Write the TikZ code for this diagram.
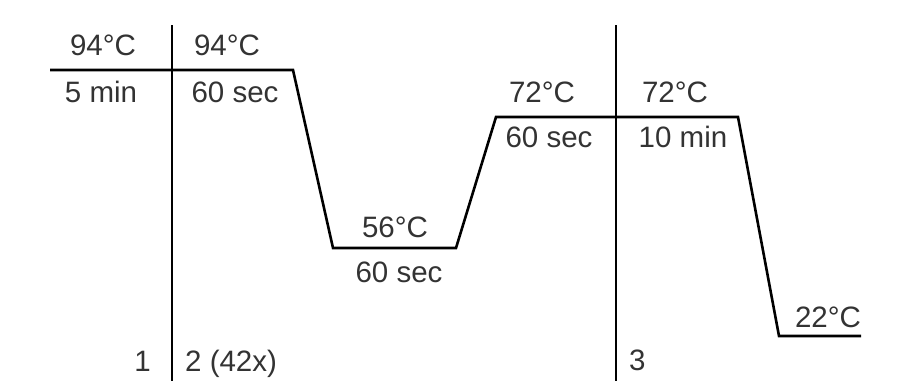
\documentclass[tikz,border=0pt]{standalone}
\usepackage{fontspec}
\setmainfont{Liberation Sans}
\definecolor{txt}{HTML}{333333}
\begin{document}
\begin{tikzpicture}[x=1pt,y=-1pt,
  lbl/.style={inner sep=0pt,text=txt,font=\fontsize{29.5}{32}\selectfont,anchor=base},
  prof/.style={line width=2.6pt,line join=miter,black},
  sep/.style={line width=2.4pt,black}]
\useasboundingbox (0,0) rectangle (898,381);
% profile coordinates
\coordinate (p0) at (50,70);
\coordinate (p1) at (293,70);
\coordinate (p2) at (333,248);
\coordinate (p3) at (456,248);
\coordinate (p4) at (496,117);
\coordinate (p5) at (738,117);
\coordinate (p6) at (779,336);
\coordinate (p7) at (861,336);
\draw[prof] (p0) -- (p1) -- (p2) -- (p3) -- (p4) -- (p5) -- (p6) -- (p7);
% separators
\coordinate (s1t) at (172,25);
\coordinate (s1b) at (172,381);
\coordinate (s2t) at (616,25);
\coordinate (s2b) at (616,381);
\draw[sep] (s1t) -- (s1b);
\draw[sep] (s2t) -- (s2b);
% labels
\node[lbl] (t1) at (103,55) {94°C};
\node[lbl] (d1) at (101,102) {5 min};
\node[lbl] (t2) at (227,55) {94°C};
\node[lbl] (d2) at (235,102) {60 sec};
\node[lbl] (t3) at (395,237) {56°C};
\node[lbl] (d3) at (399,282) {60 sec};
\node[lbl] (t4) at (542,102) {72°C};
\node[lbl] (d4) at (549,147) {60 sec};
\node[lbl] (t5) at (675,102) {72°C};
\node[lbl] (d5) at (683,147) {10 min};
\node[lbl] (t6) at (828,327) {22°C};
\node[lbl,anchor=base east] (n1) at (151,371) {1};
\node[lbl,anchor=base west] (n2) at (185,371) {2 (42x)};
\node[lbl,anchor=base west] (n3) at (629,370) {3};
\end{tikzpicture}
\end{document}
